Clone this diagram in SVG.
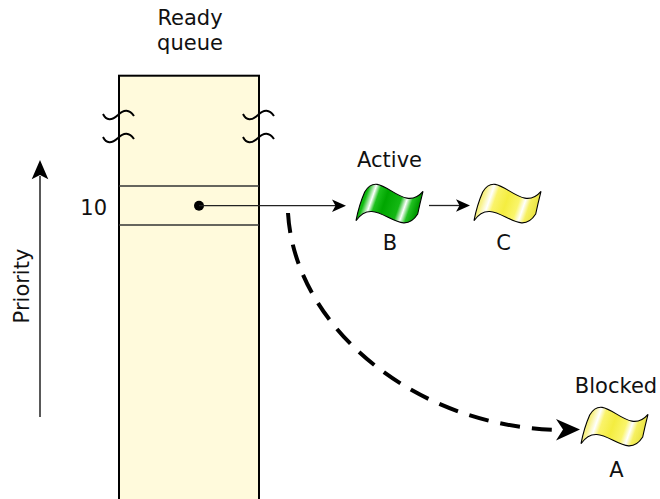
<svg xmlns="http://www.w3.org/2000/svg" width="660" height="499" viewBox="0 0 660 499">
<style>
text{font-family:"DejaVu Sans","Verdana",sans-serif;font-size:21px;fill:#111}
.wave{fill:none;stroke:#000;stroke-width:2}
.row{stroke:#333;stroke-width:1.3}
.flag{stroke:#000;stroke-width:1.1}
.thin{stroke:#222;stroke-width:1.3;fill:none}
</style>
<defs>
<linearGradient id="gGreen" x1="0" y1="0" x2="1" y2="0.2">
<stop offset="0" stop-color="#009c00"/>
<stop offset="0.2" stop-color="#10bc10"/>
<stop offset="0.3" stop-color="#ffffff"/>
<stop offset="0.37" stop-color="#1cc01c"/>
<stop offset="0.5" stop-color="#00a600"/>
<stop offset="0.72" stop-color="#14b814"/>
<stop offset="0.81" stop-color="#ffffff"/>
<stop offset="0.89" stop-color="#22c222"/>
<stop offset="1" stop-color="#009c00"/>
</linearGradient>
<linearGradient id="gYellow" x1="0" y1="0" x2="1" y2="0.2">
<stop offset="0" stop-color="#ece648"/>
<stop offset="0.2" stop-color="#f8f28a"/>
<stop offset="0.3" stop-color="#ffffff"/>
<stop offset="0.38" stop-color="#faf36a"/>
<stop offset="0.55" stop-color="#f4ed40"/>
<stop offset="0.73" stop-color="#faf56a"/>
<stop offset="0.82" stop-color="#ffffff"/>
<stop offset="0.9" stop-color="#f6f060"/>
<stop offset="1" stop-color="#ece648"/>
</linearGradient>
<path id="flagShape" d="M12.7,14 C28,-12 50,38 71,13.3 Q68,25 65.7,36 C48,64 24,14 4,42.7 Q7,27 12.7,14 Z"/>
<path id="wv" d="M103,114 Q108,124 118,115 Q127,106 134,116"/>
</defs>

<text x="190" y="25" text-anchor="middle">Ready</text>
<text x="190" y="50" text-anchor="middle">queue</text>

<g id="queue">
<rect x="119" y="75.7" width="140" height="440" fill="#fffadc" stroke="#000" stroke-width="2"/>
<line class="row" x1="119" y1="186" x2="259" y2="186"/>
<line class="row" x1="119" y1="225" x2="259" y2="225"/>
<use href="#wv" class="wave"/>
<use href="#wv" class="wave" transform="translate(0,23)"/>
<use href="#wv" class="wave" transform="translate(140,0)"/>
<use href="#wv" class="wave" transform="translate(140,23)"/>
<circle cx="199" cy="205.7" r="5" fill="#000"/>
</g>

<text x="107" y="215" text-anchor="end">10</text>

<g id="priority">
<line x1="40" y1="417" x2="40" y2="176" stroke="#222" stroke-width="1.5"/>
<path d="M40,160 L48.3,179.3 L40,175 L31.7,179.3 Z" fill="#000"/>
<text transform="translate(29,286) rotate(-90)" text-anchor="middle">Priority</text>
</g>

<g id="flagB">
<use href="#flagShape" class="flag" fill="url(#gGreen)" transform="translate(352,178)"/>
<text x="389.5" y="167" text-anchor="middle">Active</text>
<text x="390" y="250" text-anchor="middle">B</text>
</g>

<g id="flagC">
<use href="#flagShape" class="flag" fill="url(#gYellow)" transform="translate(470,178)"/>
<text x="503.5" y="250" text-anchor="middle">C</text>
</g>

<g id="flagA">
<use href="#flagShape" class="flag" fill="url(#gYellow)" transform="translate(577,401)"/>
<text x="616" y="393" text-anchor="middle">Blocked</text>
<text x="616.5" y="477" text-anchor="middle">A</text>
</g>

<g id="connectors">
<line class="thin" x1="199" y1="205.7" x2="336" y2="205.7"/>
<path d="M346,205.7 L332,199.5 L335.5,205.7 L332,212 Z" fill="#000"/>
<line class="thin" x1="429" y1="205.5" x2="461" y2="205.5"/>
<path d="M470,205.5 L456,199.3 L459.5,205.5 L456,211.8 Z" fill="#000"/>
<path d="M288,213 C295,330 420,430 565,430" fill="none" stroke="#000" stroke-width="4" stroke-dasharray="20,12"/>
<path d="M580,429.5 L556,419 L563,429.5 L556,440.5 Z" fill="#000"/>
</g>
</svg>
